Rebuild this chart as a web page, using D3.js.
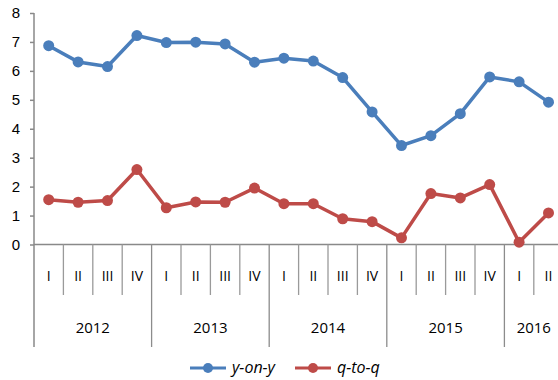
<!DOCTYPE html>
<html>
<head>
<meta charset="utf-8">
<script src="https://cdn.jsdelivr.net/npm/d3@7/dist/d3.min.js"></script>
<style>
  html, body { margin: 0; padding: 0; background: #fff; }
  svg { display: block; font-family: "Open Sans", Lato, sans-serif; }
</style>
</head>
<body>
<svg id="chart" width="558" height="380"></svg>
<script>
// Quarterly growth rates, 2012 Q1 – 2016 Q2
const years = ["2012", "2013", "2014", "2015", "2016"];
const quarterNames = ["I", "II", "III", "IV"];
const quartersPerYear = [4, 4, 4, 4, 2];
const yearOnYear = [6.87, 6.31, 6.15, 7.22, 6.98, 6.99, 6.93, 6.30, 6.44, 6.34, 5.77, 4.58, 3.42, 3.76, 4.52, 5.79, 5.62, 4.92];
const quarterOnQuarter = [1.55, 1.46, 1.52, 2.59, 1.27, 1.47, 1.46, 1.95, 1.41, 1.41, 0.89, 0.79, 0.23, 1.76, 1.61, 2.07, 0.08, 1.09];
const yTicks = [0, 1, 2, 3, 4, 5, 6, 7, 8];
const seriesNames = ["y-on-y", "q-to-q"];
const seriesColors = ["#4a7ebb", "#be4b48"];

// one category per quarter, keyed by year + quarter
const categories = [];
years.forEach((y, i) => {
  for (let q = 0; q < quartersPerYear[i]; q++) categories.push({ key: y + "-" + q, year: y, q: quarterNames[q], qi: q });
});

const svg = d3.select("#chart");
const axisColor = "#898989";
const left = 34, bandW = 29.4;
const x = d3.scaleBand()
  .domain(categories.map(d => d.key))
  .range([left, left + bandW * categories.length])
  .paddingInner(0).paddingOuter(0);
const y = d3.scaleLinear().domain([0, 8]).range([244.5, 13]);
const y0 = y(0);
const quarterTickEnd = 295, yearTickEnd = 347;

// value axis
const yAxis = svg.append("g")
  .attr("transform", `translate(${left},0)`)
  .call(d3.axisLeft(y).tickValues(yTicks).tickSize(4).tickPadding(10).tickFormat(d3.format("d")));
yAxis.select(".domain").remove();
yAxis.selectAll(".tick line").attr("stroke", axisColor).attr("stroke-width", 1.5);
yAxis.selectAll(".tick text").attr("fill", "#000").style("font-size", "15px");
svg.append("line")
  .attr("x1", left).attr("x2", left)
  .attr("y1", y(8)).attr("y2", yearTickEnd)
  .attr("stroke", axisColor).attr("stroke-width", 1.5);

// category axis baseline
svg.append("line")
  .attr("x1", left).attr("x2", x.range()[1])
  .attr("y1", y0).attr("y2", y0)
  .attr("stroke", axisColor).attr("stroke-width", 1.5);

// quarter and year separators
categories.forEach((d, i) => {
  if (i === 0) return;
  const bx = x(d.key);
  const isYear = d.qi === 0;
  svg.append("line")
    .attr("x1", bx).attr("x2", bx)
    .attr("y1", y0).attr("y2", isYear ? yearTickEnd : quarterTickEnd)
    .attr("stroke", isYear ? "#8c8c8c" : "#9a9a9a").attr("stroke-width", 1.3);
});

// quarter labels
svg.append("g").selectAll("text").data(categories).join("text")
  .attr("x", d => x(d.key) + x.bandwidth() / 2)
  .attr("y", 281)
  .attr("text-anchor", "middle")
  .style("font-size", "14px")
  .attr("fill", "#000")
  .text(d => d.q);

// year labels, centred under their quarters
let start = 0;
years.forEach((yr, i) => {
  const n = quartersPerYear[i];
  const x1 = x(categories[start].key);
  const x2 = x(categories[start + n - 1].key) + x.bandwidth();
  svg.append("text")
    .attr("x", (x1 + x2) / 2)
    .attr("y", 333)
    .attr("text-anchor", "middle")
    .style("font-size", "15px")
    .attr("fill", "#000")
    .text(yr);
  start += n;
});

// series lines and markers
const line = d3.line().x((d, i) => x(categories[i].key) + x.bandwidth() / 2).y(d => y(d));
[yearOnYear, quarterOnQuarter].forEach((vals, si) => {
  svg.append("path")
    .datum(vals)
    .attr("d", line)
    .attr("fill", "none")
    .attr("stroke", seriesColors[si])
    .attr("stroke-width", 3.5)
    .attr("stroke-linejoin", "round");
  svg.append("g").selectAll("circle").data(vals).join("circle")
    .attr("cx", (d, i) => x(categories[i].key) + x.bandwidth() / 2)
    .attr("cy", d => y(d))
    .attr("r", 5.5)
    .attr("fill", seriesColors[si]);
});

// legend
const legendX = [190, 295];
seriesNames.forEach((name, i) => {
  const g = svg.append("g").attr("transform", `translate(${legendX[i]},368)`);
  g.append("line").attr("x1", 0).attr("x2", 36).attr("y1", 0).attr("y2", 0)
    .attr("stroke", seriesColors[i]).attr("stroke-width", 3);
  g.append("circle").attr("cx", 18).attr("cy", 0).attr("r", 5).attr("fill", seriesColors[i]);
  g.append("text").attr("x", 42).attr("y", 5)
    .style("font-size", "16px").style("font-style", "italic")
    .attr("fill", "#000").text(name);
});
</script>
</body>
</html>
